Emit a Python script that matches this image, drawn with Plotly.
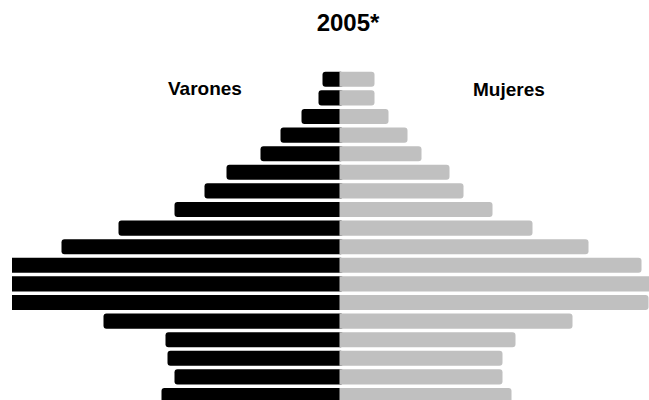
import plotly.graph_objects as go

# Age groups from oldest (top) to youngest (bottom)
ages = ["85+", "80-84", "75-79", "70-74", "65-69", "60-64", "55-59", "50-54",
        "45-49", "40-44", "35-39", "30-34", "25-29", "20-24", "15-19", "10-14",
        "5-9", "0-4"]
varones = [17, 21, 38, 59, 79, 113, 135, 165, 221, 278, 345, 350, 340, 236, 174, 172, 165, 178]
mujeres = [35, 35, 49, 68, 82, 110, 124, 153, 193, 249, 302, 315, 309, 233, 176, 163, 163, 172]

overlap = 4
pos = list(range(len(ages)))

W, H = 649, 400
ML, MT = 12, 70
PW, PH = W - ML, H - MT

fig = go.Figure()
fig.add_trace(go.Bar(
    y=pos, x=[-(v + overlap) for v in varones], base=[overlap] * len(ages),
    orientation="h", marker=dict(color="#000000", line=dict(width=0)),
    name="Varones", hovertext=ages, showlegend=False))
fig.add_trace(go.Bar(
    y=pos, x=mujeres, orientation="h",
    marker=dict(color="#C0C0C0", line=dict(width=0)),
    name="Mujeres", hovertext=ages, showlegend=False))

fig.update_layout(
    width=W, height=H,
    margin=dict(l=ML, r=0, t=MT, b=0),
    paper_bgcolor="white", plot_bgcolor="white",
    barmode="overlay", bargap=0.19, barcornerradius=3,
    font=dict(family="Liberation Sans, Arial, sans-serif", color="#000000"),
    title=dict(text="<b>2005*</b>", x=348 / W, xanchor="center",
               y=1 - 23 / H, yanchor="middle", font=dict(size=24)),
    xaxis=dict(range=[-327.5, 309.5], showgrid=False, zeroline=False,
               showticklabels=False, showline=False, fixedrange=True),
    yaxis=dict(range=[-0.5 + PH / 18.6, -0.5], showgrid=False, zeroline=False,
               showticklabels=False, showline=False, fixedrange=True),
    annotations=[
        dict(text="<b>Varones</b>", x=(205 - ML) / PW, y=(H - 88) / PH, xref="paper", yref="paper",
             xanchor="center", yanchor="middle", showarrow=False, font=dict(size=19)),
        dict(text="<b>Mujeres</b>", x=(509 - ML) / PW, y=(H - 90) / PH, xref="paper", yref="paper",
             xanchor="center", yanchor="middle", showarrow=False, font=dict(size=19)),
    ],
)

fig.write_html("out.html", config={"displayModeBar": False},
               post_script="document.body.style.margin='0';")
